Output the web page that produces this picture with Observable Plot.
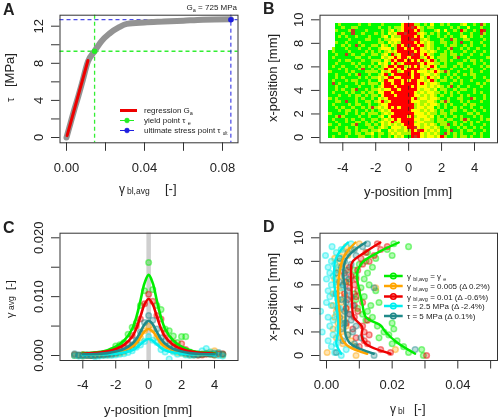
<!DOCTYPE html>
<html>
<head>
<meta charset="utf-8">
<script src="https://cdn.jsdelivr.net/npm/d3@7"></script>
<script src="https://cdn.jsdelivr.net/npm/@observablehq/plot@0.6"></script>
<style>
html,body{margin:0;padding:0;background:#fff}
#wrap{position:relative;width:500px;height:419px;overflow:hidden;background:#fff;filter:blur(0.35px)}
#wrap svg{position:absolute;background:transparent;overflow:visible}
</style>
</head>
<body>
<div id="wrap"></div>
<script>
// ---------- Panel A ----------
const curveStrain = [0,.002,.004,.006,.008,.011,.0144,.018,.022,.027,.031,.04,.05,.06,.07,.0843];
const curveStress = [0,1.5,3,4.4,5.9,8.2,9.3,10.4,11.2,11.9,12.25,12.4,12.5,12.6,12.7,12.75];
const regStrain = [.0003,.011];
const regStress = [.2,8.3];
const yieldPoint = [.0144,9.3];
const ultimatePoint = [.0843,12.7];

// ---------- Panel B: strain field, rows from x = 9.5 down to 0, columns from y = -4.85 in 0.2 mm steps
// . empty, 0 green, 1 lime, 2 yellow, 4 red, 5 dark red
const fieldRows = [
"..010000010010 0010000 0244411 0102001 01000120010510",
"..001001100000 0100101 1244542 1011000 00101002000100",
"..100015000100 0010120 1244424 1000120 20010410010450",
"..001005001000 1010212 4454441 2101010 01000100100510",
"..010100100010 0012021 1444424 2010010 10100120100100",
"..000010000110 0101122 2444544 1210001 00510011000010",
"..100100010000 0110212 1444424 2121001 10010500100100",
"..001010501001 1021021 4245442 4121000 10110010100010",
".1000100010010 0122201 4424244 2121010 01500101001000",
"01000010000101 0101212 4444424 2212100 10100010010010",
"00100501001001 1012041 2444544 2421001 10110100100100",
"01000000110010 0021224 2442444 1242011 10015001000001",
"00010110001001 1102142 4424242 4124101 10100010110100",
"00100001010001 0212024 1244445 2422110 10001100010010",
"01001000101010 1012442 4412424 2124201 10010101000101",
"00010100015001 0114224 2424444 1241210 00100010100010",
"10000101000111 1021244 1244242 2212421 51001000100100",
"00100010150010 0124024 4444244 1221210 01010010110000",
"00101000010101 1212442 2444244 2142120 10101000010010",
"01000101100010 0214224 4242442 2124101 10010100100001",
"05010000101011 1024424 4244442 4212210 00100100001010",
"00100100010001 0124442 4444242 2212121 01501001000100",
"00101001500101 1212244 2444442 1221201 10010110010000",
"01000101001011 0224424 4444421 2122110 10101000010100",
"00010010110101 1024442 4444422 1212101 00100101000010",
"10100000101001 0212444 4444241 2212210 01001100510010",
"00110500100110 1241244 4444222 1122101 51000101000100",
"01000010110010 0122444 4444412 1212210 10100010110000",
"00101001001015 1212424 2444412 2122010 10010100100100",
"00010110100101 0121244 4444222 1212101 00110010010010",
"10000100101011 1012124 4444422 2121101 10100001101000",
"00151000010010 0120244 4442412 2212010 10010100010100",
"01000101001001 1012124 2444422 1221011 01100151000101",
"00100100110101 0121241 2444412 2111011 10010010101000",
"10010001500110 1021212 1244422 1212101 15010100100010",
"00100100100011 0121022 2124452 1221210 11001010010100",
"01100110101101 1200212 1121425 4212120 01500101100010",
"00010010110112 0110121 2111444 2121210 51010100010100",
"01000100011001 0100102 1200454 2122124 10010110100100"
];
const fieldLevels = ["0","1","2","4","5"];
const fieldColors = ["#00f800","#a8f800","#ffff00","#ff0000","#c23a22"];

// ---------- Panel C ----------
const fitPositions = [-4,-3,-2.5,-2,-1.5,-1,-.75,-.5,-.25,0,.25,.5,.75,1,1.5,2,2.5,3,4];
const fitGreen  = [.0004,.0006,.0009,.0015,.0025,.0045,.0065,.0093,.0123,.0137,.0123,.0093,.0065,.0045,.0025,.0015,.0009,.0006,.0004];
const fitOrange = [.0002,.0002,.0003,.0005,.0009,.0015,.0021,.0031,.0041,.0045,.0041,.0031,.0021,.0015,.0009,.0005,.0003,.0002,.0002];
const fitRed    = [.0003,.0005,.0007,.0011,.0018,.0032,.0046,.0066,.0087,.0096,.0087,.0066,.0046,.0032,.0018,.0011,.0007,.0005,.0003];
const fitCyan   = [.0001,.0002,.0002,.0003,.0005,.0009,.0013,.0019,.0025,.0028,.0025,.0019,.0013,.0009,.0005,.0003,.0002,.0002,.0001];
const fitTeal   = [.0002,.0003,.0004,.0007,.0011,.002,.0028,.004,.0053,.0059,.0053,.004,.0028,.002,.0011,.0007,.0004,.0003,.0002];

const dotPositions = [-4.5,-4.25,-4,-3.75,-3.5,-3.25,-3,-2.75,-2.5,-2.25,-2,-1.75,-1.5,-1.25,-1,-.75,-.5,-.25,0,.25,.5,.75,1,1.25,1.5,1.75,2,2.25,2.5,2.75,3,3.25,3.5,3.75,4,4.25,4.5];
const dotGreen  = [0,0,.0001,0,0,.0001,.0002,.0003,.0004,.0008,.0016,.0018,.0022,.0036,.0048,.0055,.0085,.011,.0158,.0112,.0085,.0078,.0045,.0042,.0033,.0022,.0032,.0032,.0006,.0003,.0002,.0002,.0003,.0002,.0001,.0003,.0002];
const dotRed    = [.0001,0,.0001,0,0,.0001,.0001,.0002,.0002,.0005,.0008,.0012,.0012,.002,.0034,.005,.0062,.0088,.0104,.0092,.0068,.0062,.0038,.0028,.0022,.0014,.002,.001,.0005,.0002,.0001,.0001,.0002,.0003,.0001,.0002,.0003];
const dotOrange = [.0001,0,-.0001,0,0,0,.0001,.0001,.0001,.0002,.0003,.0004,.0006,.001,.0014,.002,.003,.0042,.005,.0044,.0032,.0022,.0016,.0012,.0008,.0005,.0004,.0002,.0001,.0001,.0001,.0002,.0004,.0006,.0008,.0003,.0001];
const dotCyan   = [0,-.0001,-.0001,0,0,-.0002,-.0001,0,0,0,.0001,.0002,.0003,.0005,.0008,.0014,.0018,.0024,.0032,.0026,.0022,.001,.0006,-.0006,.0006,.0002,.0004,.0001,0,.0001,.0003,.0008,.0012,.0006,.0002,0,-.0001];
const dotTeal   = [.0003,.0001,0,.0001,0,0,.0001,.0001,.0002,.0002,.0004,.0006,.0008,.0012,.0018,.0026,.004,.0056,.0068,.006,.0045,.003,.0024,.0016,.0012,.0008,.0006,.0004,.0002,.0001,.0001,.0002,.0003,.0002,.0004,.0005,.0002];

// ---------- Panel D ----------
const profGreen  = [[.027,.15],[.0215,1.1],[.018,2],[.0165,2.55],[.012,3.25],[.0109,4.4],[.0098,5.8],[.0093,6.9],[.0109,7.9],[.016,8.8],[.022,9.6]];
const profOrange = [[.0124,.15],[.0063,.85],[.0043,1.7],[.0041,3.25],[.0035,5],[.0038,6.7],[.0053,8.4],[.0088,9.6]];
const profRed    = [[.0195,.15],[.0119,1],[.0107,1.7],[.0109,2.4],[.0083,3.25],[.0078,4.4],[.0076,5.8],[.0075,6.9],[.0078,7.9],[.0119,8.8],[.0164,9.6]];
const profCyan   = [[.0045,.15],[.003,1],[.0035,2],[.0035,3],[.003,4.4],[.0025,5.8],[.0023,6.9],[.0027,8.1],[.0045,9],[.0065,9.6]];
const profTeal   = [[.0144,.15],[.0073,1],[.0058,1.8],[.0058,3],[.0058,4.4],[.0056,5.8],[.0051,6.9],[.0058,8.1],[.0083,8.9],[.0119,9.6]];

const rowPositions = d3.range(0,9.75,.25);
const rowGreen  = [.0295,.025,.029,.0235,.02,.0215,.016,.019,.0175,.0205,.0155,.02,.012,.014,.011,.0125,.0095,.0135,.016,.009,.0115,.0085,.015,.0105,.013,.007,.0115,.009,.0125,.0085,.014,.01,.012,.015,.02,.0125,.0185,.025,.0205];
const rowOrange = [.009,.0002,.021,.0085,.005,.0075,.003,.0065,.0045,.002,.006,.0035,.0055,.0025,.005,.003,.006,.002,.0045,.0035,.0055,.002,.004,.015,.003,.0055,.0025,.0045,.003,.006,.0035,.005,.004,.0025,.0065,.005,.0075,.006,.01];
const rowRed    = [.0305,.0195,.0165,.01,.0125,.0115,.009,.013,.0115,.008,.011,.006,.0125,.0085,.007,.0095,.006,.0085,.011,.0065,.009,.0055,.0095,.007,.0085,.006,.009,.0075,.0055,.0095,.007,.011,.013,.0105,.0145,.012,.0165,.0185,.0155];
const rowCyan   = [.0045,.0025,.006,.0015,.003,.0005,.004,.002,-.0013,.0035,.001,.0045,.002,.0005,.003,-.0018,.004,.0015,0,.0035,.001,.0025,.0005,.0045,.0015,.003,0,.002,.001,.0035,.0005,.0025,.0015,.004,-.0003,.003,.0045,.0017,.0075];
const rowTeal   = [.0145,.003,.027,.009,.0085,.005,.0105,.0065,.008,.0045,.009,.0055,.0075,.004,.007,.0055,.0035,.008,.006,.0045,.0075,.003,.0065,.0145,.005,.004,.007,.0055,.003,.0065,.0045,.0075,.0055,.004,.009,.0065,.0085,.011,.0125];

// ---------- Styles ----------
const GREEN="#00ee00", ORANGE="#ffa500", RED="#ee0000", CYAN="#00eeee", TEAL="#1f8a8a", BLUE="#1f1fe0", INK="#222";
const FONT='"Liberation Sans", Arial, sans-serif';

// Annotations with subscripts: real text with tspans, placed in panel coordinates.
function notes(items, legendKeys=[]) {
  return () => {
    const g = d3.create("svg:g").attr("font-family",FONT).attr("fill",INK);
    for (const k of legendKeys) {
      g.append("line").attr("x1",k.x1).attr("x2",k.x2).attr("y1",k.y).attr("y2",k.y)
        .attr("stroke",k.color).attr("stroke-width",k.w||2.5);
      if (k.dot) g.append("circle").attr("cx",(k.x1+k.x2)/2).attr("cy",k.y).attr("r",k.r||2.8)
        .attr("fill",k.color).attr("fill-opacity",k.hollow?0.2:1).attr("stroke",k.color).attr("stroke-width",k.hollow?1.4:0.5);
    }
    for (const n of items) {
      const t = g.append("text").attr("text-anchor",n.anchor||"start")
        .attr("font-size",n.size||13).attr("font-weight",n.bold?"bold":null)
        .attr("fill",n.color||INK)
        .attr("transform",`translate(${n.x},${n.y})`+(n.rotate?` rotate(${n.rotate})`:""));
      for (const p of n.parts) {
        const s = t.append("tspan").text(p[0]).attr("xml:space","preserve");
        if (p[1]) s.attr("font-size",p[1]);
        if (p[2]) s.attr("dy",p[2]);
      }
    }
    return g.node();
  };
}

function axes(xTicks,xLab,yTicks,yLab){
  return [
    Plot.axisX({ticks:xTicks,tickFormat:d=>xLab.get(d)??"",tickSize:8.5,tickPadding:11,fontSize:13,label:null,stroke:"#333",color:INK}),
    Plot.axisY({ticks:yTicks,tickFormat:d=>yLab.get(d)??"",tickSize:8.5,tickPadding:9,tickRotate:-90,fontSize:13,label:null,stroke:"#333",color:INK,textAnchor:"middle",lineAnchor:"bottom"})
  ];
}

function panel(left,top,h,ml,mr,x,y,marks){
  const fig = Plot.plot({
    width:250,height:h,marginLeft:ml,marginRight:mr,marginTop:top?22.7:14.7,marginBottom:h-(top?150:142.3),
    x:{domain:x[0],range:x[1]},y:{domain:y[0],range:y[1]},
    style:{fontFamily:FONT,background:"transparent"},
    marks:[...marks,Plot.frame({stroke:"#333",strokeWidth:1})]
  });
  fig.style.left=left+"px"; fig.style.top=top+"px";
  document.getElementById("wrap").appendChild(fig);
}
const mapOf = a => new Map(a.map(d=>[d,String(d)]));

// ---------- A ----------
panel(0,0,210,59.5,12.5,[[0,.08],[66,222]],[[0,12],[137,25.7]],[
  Plot.ruleX([yieldPoint[0]],{stroke:"#33ee33",strokeWidth:1.3,strokeDasharray:"4,3"}),
  Plot.ruleY([yieldPoint[1]],{stroke:"#33ee33",strokeWidth:1.3,strokeDasharray:"4,3"}),
  Plot.ruleX([ultimatePoint[0]],{stroke:BLUE,strokeWidth:1,strokeDasharray:"4,3"}),
  Plot.ruleY([ultimatePoint[1]],{stroke:BLUE,strokeWidth:1,strokeDasharray:"4,3"}),
  Plot.line(curveStrain.map((d,i)=>[d,curveStress[i]]),{stroke:"#939393",strokeWidth:6,curve:"monotone-x"}),
  Plot.line(regStrain.map((d,i)=>[d,regStress[i]]),{stroke:RED,strokeWidth:3}),
  Plot.dot([yieldPoint],{r:2.8,fill:"#22ee22"}),
  Plot.dot([ultimatePoint],{r:2.8,fill:BLUE}),
  ...axes([0,.02,.04,.06,.08],new Map([[0,"0.00"],[.04,"0.04"],[.08,"0.08"]]),[0,2,4,6,8,10,12],new Map([[0,"0"],[4,"4"],[8,"8"],[12,"12"]])),
  notes([
    {x:3,y:15,size:16,bold:true,parts:[["A"]]},
    {x:237,y:10,size:8,anchor:"end",parts:[["G"],["a",5.5,2],[" = 725 MPa",8,-2]]},
    {x:144,y:113,size:8,parts:[["regression G"],["a",5.5,2]]},
    {x:144,y:123,size:8,parts:[["yield point τ "],["e",5.5,2]]},
    {x:144,y:133,size:8,parts:[["ultimate stress point τ "],["ult",4.5,2]]},
    {x:14,y:102,size:11,rotate:-90,parts:[["τ"]]},
    {x:14,y:87,size:13,rotate:-90,parts:[["[MPa]"]]},
    {x:119,y:193,size:12,parts:[["γ"]]},
    {x:127,y:194,size:8.5,parts:[["bl,avg"]]},
    {x:165,y:193,size:13,parts:[["[-]"]]}
  ],[
    {x1:120,x2:137,y:110.5,color:RED,w:3},
    {x1:120,x2:134,y:120.5,color:"#22ee22",w:1,dot:true,r:2.4},
    {x1:120,x2:134,y:130.5,color:BLUE,w:1,dot:true,r:2.4}
  ])
]);

// ---------- B ----------
const fieldCells = fieldRows.flatMap((row,r)=>Array.from(row.replace(/ /g,""),(c,k)=>({c,k,r}))).filter(d=>d.c!==".");
panel(250,0,210,69.5,3,[[-4,4],[92.3,224]],[[0,10],[137,19.3]],[
  Plot.rect(fieldCells,{
    x1:d=>-4.85+d.k*.2,x2:d=>-4.85+(d.k+1)*.2,
    y1:d=>9.65-(d.r+1)*.25,y2:d=>9.65-d.r*.25,
    fill:d=>fieldColors[fieldLevels.indexOf(d.c)],shapeRendering:"crispEdges",imageFilter:"blur(0.5px)"
  }),
  Plot.ruleX([0],{y1:-.15,y2:10.3,stroke:"#222",strokeWidth:1,strokeDasharray:"4,3",strokeOpacity:.75}),
  ...axes([-4,-2,0,2,4],mapOf([-4,-2,0,2,4]),[0,2,4,6,8,10],mapOf([0,2,4,6,8,10])),
  notes([
    {x:13,y:14,size:16,bold:true,parts:[["B"]]},
    {x:27,y:78,size:13,anchor:"middle",rotate:-90,parts:[["x-position [mm]"]]},
    {x:158,y:196,size:13,anchor:"middle",parts:[["y-position [mm]"]]}
  ])
]);

// ---------- C ----------
const seriesC=[[dotGreen,fitGreen,GREEN],[dotOrange,fitOrange,ORANGE],[dotRed,fitRed,RED],[dotCyan,fitCyan,CYAN],[dotTeal,fitTeal,TEAL]];
panel(0,210,209,59.5,12.5,[[-4,4],[82.3,214]],[[0,.02],[145,27.3]],[
  Plot.ruleX([0],{stroke:"#cfcfcf",strokeWidth:4.5}),
  ...seriesC.map(([d,,c])=>Plot.dot(dotPositions.map((p,i)=>[p,d[i]]),{r:2.8,fill:c,fillOpacity:.3,stroke:c,strokeOpacity:.45,clip:"frame"})),
  ...seriesC.map(([,f,c])=>Plot.line(fitPositions.map((p,i)=>[p,f[i]]),{stroke:c,strokeWidth:2.6,curve:"catmull-rom"})),
  ...axes([-4,-2,0,2,4],mapOf([-4,-2,0,2,4]),[0,.005,.01,.015,.02],new Map([[0,"0.000"],[.01,"0.010"],[.02,"0.020"]])),
  notes([
    {x:3,y:23,size:16,bold:true,parts:[["C"]]},
    {x:14,y:108,size:11,rotate:-90,parts:[["γ"]]},
    {x:14,y:100,size:8.5,rotate:-90,parts:[["avg"]]},
    {x:14,y:80,size:11,rotate:-90,parts:[["[-]"]]},
    {x:148,y:204,size:13,anchor:"middle",parts:[["y-position [mm]"]]}
  ])
]);

// ---------- D ----------
const seriesD=[[rowGreen,profGreen,GREEN],[rowOrange,profOrange,ORANGE],[rowRed,profRed,RED],[rowCyan,profCyan,CYAN],[rowTeal,profTeal,TEAL]];
const lx=[134,152.7];
panel(250,210,209,69.5,3,[[0,.04],[76,207.3]],[[0,10],[145,27.3]],[
  ...seriesD.map(([d,,c])=>Plot.dot(rowPositions.map((p,i)=>[d[i],p]),{r:2.8,fill:c,fillOpacity:.3,stroke:c,strokeOpacity:.45,clip:"frame"})),
  ...seriesD.map(([,f,c])=>Plot.line(f,{stroke:c,strokeWidth:2.4,curve:"catmull-rom"})),
  ...axes([0,.01,.02,.03,.04,.05],new Map([[0,"0.00"],[.02,"0.02"],[.04,"0.04"]]),[0,2,4,6,8,10],mapOf([0,2,4,6,8,10])),
  notes([
    {x:13,y:22,size:16,bold:true,parts:[["D"]]},
    {x:157,y:69,size:8,parts:[["γ "],["bl,avg",5.5,1.5],[" = γ ",8,-1.5],["e",5.5,1.5]]},
    {x:157,y:79,size:8,parts:[["γ "],["bl,avg",5.5,1.5],[" = 0.005 (Δ 0.2%)",8,-1.5]]},
    {x:157,y:89.5,size:8,parts:[["γ "],["bl,avg",5.5,1.5],[" = 0.01 (Δ -0.6%)",8,-1.5]]},
    {x:157,y:99,size:8,parts:[["τ = 2.5 MPa (Δ -2.4%)"]]},
    {x:157,y:109,size:8,parts:[["τ = 5 MPa (Δ 0.1%)"]]},
    {x:27,y:87,size:13,anchor:"middle",rotate:-90,parts:[["x-position [mm]"]]},
    {x:140,y:203,size:12,parts:[["γ"]]},
    {x:148,y:204,size:8.5,parts:[["bl"]]},
    {x:164,y:203,size:13,parts:[["[-]"]]}
  ],[
    {x1:lx[0],x2:lx[1],y:66,color:GREEN,dot:true,hollow:true},
    {x1:lx[0],x2:lx[1],y:76,color:ORANGE,dot:true,hollow:true},
    {x1:lx[0],x2:lx[1],y:86.5,color:RED,dot:true,hollow:true},
    {x1:lx[0],x2:lx[1],y:96,color:CYAN,dot:true,hollow:true},
    {x1:lx[0],x2:lx[1],y:106,color:TEAL,dot:true,hollow:true}
  ])
]);
</script>
</body>
</html>
